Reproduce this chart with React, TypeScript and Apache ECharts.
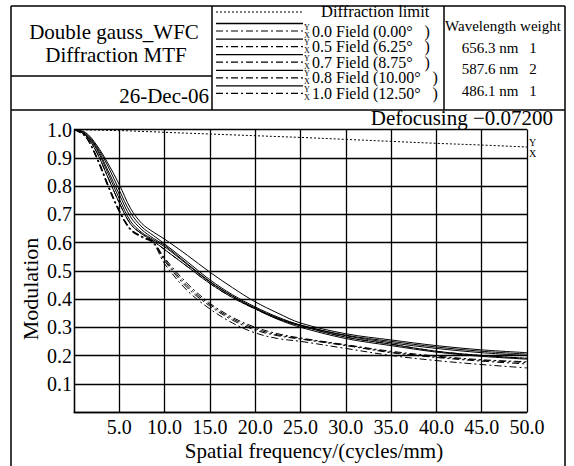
import React, { useEffect, useRef } from "react";
import * as echarts from "echarts";

const FONT = '"Liberation Serif", "Times New Roman", serif';

const freq = [0, 1.25, 2.5, 3.75, 5, 6.25, 7.5, 8.75, 10, 12.5, 15, 17.5, 20, 22.5, 25, 30, 35, 40, 45, 50];

const diffraction = [1, 0.999, 0.998, 0.997, 0.996, 0.995, 0.993, 0.992, 0.99, 0.987, 0.984, 0.981, 0.978, 0.975, 0.972, 0.965, 0.958, 0.951, 0.945, 0.938];

const field00T = [1, 0.98, 0.92, 0.83, 0.74, 0.665, 0.63, 0.605, 0.575, 0.515, 0.455, 0.405, 0.365, 0.33, 0.305, 0.265, 0.24, 0.215, 0.2, 0.19];
const field00S = [1, 0.98, 0.92, 0.83, 0.74, 0.665, 0.63, 0.605, 0.575, 0.515, 0.455, 0.405, 0.365, 0.33, 0.305, 0.265, 0.24, 0.215, 0.2, 0.19];
const field05T = [1, 0.982, 0.93, 0.845, 0.755, 0.675, 0.635, 0.61, 0.585, 0.522, 0.46, 0.41, 0.368, 0.333, 0.307, 0.27, 0.245, 0.225, 0.21, 0.2];
const field05S = [1, 0.976, 0.905, 0.805, 0.715, 0.648, 0.622, 0.602, 0.545, 0.455, 0.385, 0.335, 0.3, 0.277, 0.262, 0.238, 0.215, 0.198, 0.185, 0.178];
const field07T = [1, 0.984, 0.935, 0.855, 0.77, 0.69, 0.645, 0.615, 0.59, 0.525, 0.462, 0.41, 0.366, 0.328, 0.3, 0.26, 0.235, 0.212, 0.197, 0.187];
const field07S = [1, 0.975, 0.9, 0.8, 0.71, 0.645, 0.62, 0.6, 0.535, 0.44, 0.375, 0.325, 0.29, 0.27, 0.258, 0.235, 0.21, 0.193, 0.18, 0.17];
const field08T = [1, 0.987, 0.94, 0.87, 0.785, 0.705, 0.655, 0.625, 0.595, 0.532, 0.468, 0.415, 0.372, 0.336, 0.308, 0.272, 0.25, 0.23, 0.215, 0.205];
const field08S = [1, 0.976, 0.902, 0.805, 0.712, 0.647, 0.621, 0.6, 0.54, 0.447, 0.38, 0.33, 0.295, 0.273, 0.26, 0.237, 0.212, 0.195, 0.183, 0.175];
const field10T = [1, 0.99, 0.945, 0.88, 0.805, 0.72, 0.667, 0.637, 0.612, 0.555, 0.495, 0.44, 0.39, 0.35, 0.315, 0.277, 0.255, 0.235, 0.22, 0.21];
const field10S = [1, 0.975, 0.898, 0.798, 0.708, 0.643, 0.618, 0.597, 0.525, 0.43, 0.365, 0.315, 0.28, 0.26, 0.25, 0.225, 0.2, 0.182, 0.168, 0.156];

const legendLabels = ["0.0 Field (0.00°   )", "0.5 Field (6.25°   )", "0.7 Field (8.75°   )", "0.8 Field (10.00°   )", "1.0 Field (12.50°   )"];
const wavelengths = ["656.3 nm", "587.6 nm", "486.1 nm"];
const weights = ["1", "2", "1"];

const DOTTED = [2, 2];
const DASHDOT = [7, 3, 2, 3];

export default function App() {
  const ref = useRef<HTMLDivElement>(null);
  useEffect(() => {
    if (!ref.current) return;
    const chart = echarts.init(ref.current, null, { renderer: "svg" });
    const pair = (d: number[]) => freq.map((f, i) => [f, d[i]]);
    const mk = (name: string, d: number[], dash: any) => ({
      name,
      type: "line",
      data: pair(d),
      smooth: 0.35,
      showSymbol: false,
      symbol: "none",
      lineStyle: { color: "#000", width: 1, type: dash },
      z: 3,
    });
    const series = [
      mk("Diffraction limit", diffraction, DOTTED),
      mk("0.0 T", field00T, "solid"),
      mk("0.0 S", field00S, DASHDOT),
      mk("0.5 T", field05T, "solid"),
      mk("0.5 S", field05S, DASHDOT),
      mk("0.7 T", field07T, "solid"),
      mk("0.7 S", field07S, DASHDOT),
      mk("0.8 T", field08T, "solid"),
      mk("0.8 S", field08S, DASHDOT),
      mk("1.0 T", field10T, "solid"),
      mk("1.0 S", field10S, DASHDOT),
    ];

    const ln = (x1: number, y1: number, x2: number, y2: number, w = 1.5, dash?: number[]) => ({
      type: "line",
      shape: { x1, y1, x2, y2 },
      style: { stroke: "#000", lineWidth: w, lineDash: dash },
      silent: true,
    });
    const tx = (text: string, x: number, y: number, size: number, align = "left", extra: any = {}) => ({
      type: "text",
      silent: true,
      style: { text, x, y, fill: "#000", font: `${size}px ${FONT}`, align, verticalAlign: "middle", lineHeight: size, ...extra },
    });

    const graphics: any[] = [
      // frame
      ln(11, 6, 565, 6),
      ln(11, 6, 11, 466),
      ln(565, 6, 565, 466),
      ln(11, 110, 565, 110),
      ln(212, 6, 212, 110),
      ln(444, 6, 444, 110),
      ln(11, 76, 212, 76),
      // title block
      tx("Double gauss_WFC", 114, 32, 21, "center"),
      tx("Diffraction MTF", 116, 55, 21, "center"),
      tx("26-Dec-06", 209, 96, 21, "right"),
      // legend
      ln(216, 12, 303, 12, 1.2, DOTTED),
      tx("Diffraction limit", 321, 11.5, 16.5),
      // wavelength table
      tx("Wavelength weight", 503, 26, 15, "center"),
      tx("Defocusing \u22120.07200", 553, 118, 21, "right"),
      // Y X at end of diffraction curve
      tx("Y", 529, 142.5, 10),
      tx("X", 529, 153, 10),
      // axis names
      tx("Spatial frequency/(cycles/mm)", 314, 451, 21, "center"),
      {
        type: "text",
        silent: true,
        x: 30,
        y: 289,
        rotation: Math.PI / 2,
        style: { text: "Modulation", x: 0, y: 0, fill: "#000", font: `22px ${FONT}`, align: "center", verticalAlign: "middle" },
      },
    ];
    legendLabels.forEach((lab, i) => {
      const ty = 31 + 15.6 * i;
      graphics.push(ln(216, ty - 7.5, 303, ty - 7.5, 1.3));
      graphics.push(ln(216, ty, 303, ty, 1.2, DASHDOT));
      graphics.push(tx("Y", 304, ty - 4, 8));
      graphics.push(tx("X", 304, ty + 4, 8));
      graphics.push(tx(lab, 312, ty, 16));
    });
    wavelengths.forEach((w, i) => {
      const ty = 47.5 + 21.8 * i;
      graphics.push(tx(w, 490, ty, 15, "center"));
      graphics.push(tx(weights[i], 533, ty, 15, "center"));
    });

    chart.setOption({
      animation: false,
      backgroundColor: "#fff",
      grid: { left: 74, top: 129.5, width: 453, height: 282.5, containLabel: false },
      xAxis: {
        type: "value",
        min: 0,
        max: 50,
        interval: 5,
        axisLine: { show: true, lineStyle: { color: "#000", width: 1.3 } },
        axisTick: { show: false },
        splitLine: { show: true, lineStyle: { color: "#000", width: 1.3 } },
        axisLabel: {
          color: "#000",
          fontFamily: FONT,
          fontSize: 20,
          margin: 5,
          formatter: (v: number) => (v === 0 ? "" : v.toFixed(1)),
        },
      },
      yAxis: {
        type: "value",
        min: 0,
        max: 1,
        interval: 0.1,
        axisLine: { show: true, lineStyle: { color: "#000", width: 1.3 } },
        axisTick: { show: false },
        splitLine: { show: true, lineStyle: { color: "#000", width: 1.3 } },
        axisLabel: {
          color: "#000",
          fontFamily: FONT,
          fontSize: 20,
          margin: 2,
          formatter: (v: number) => (v === 0 ? "" : v.toFixed(1)),
        },
      },
      series,
      graphic: graphics,
    });
    return () => chart.dispose();
  }, []);
  return <div ref={ref} style={{ position: "absolute", left: 0, top: 0, width: 574, height: 466 }} />;
}
